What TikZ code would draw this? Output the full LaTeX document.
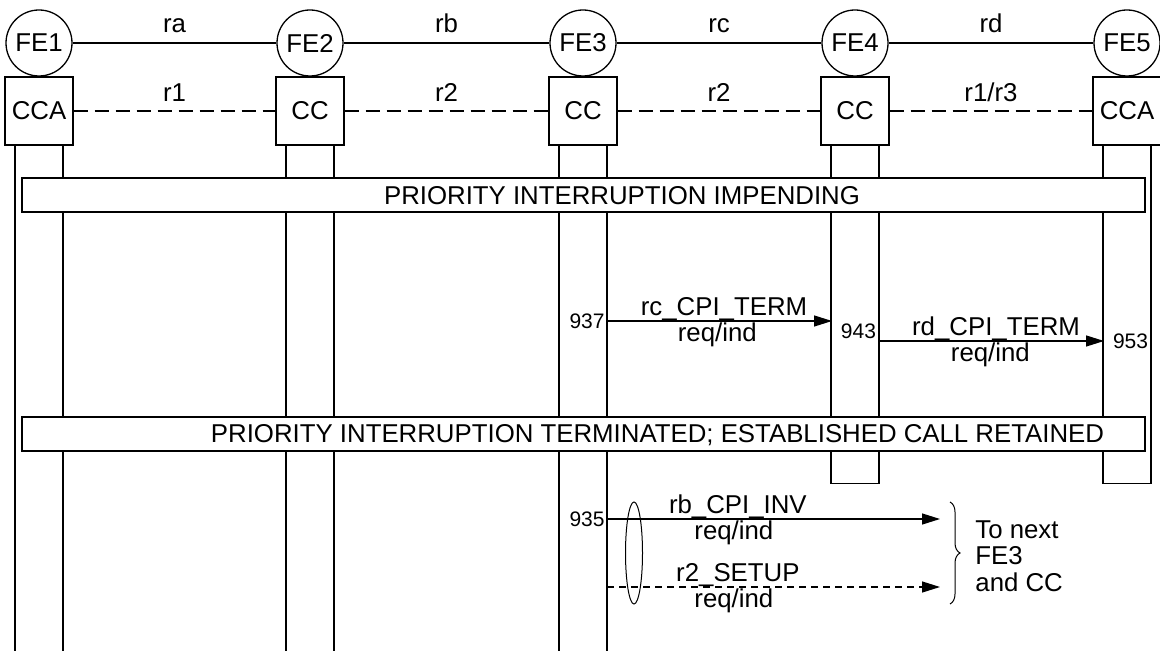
\documentclass[tikz,border=0pt]{standalone}
\usepackage{fontspec}
\setmainfont{Liberation Sans}
\usepackage{tikz}
\usetikzlibrary{arrows.meta,calc,shapes.geometric,decorations.pathreplacing}
\newcommand{\msgfont}{\fontsize{12.9pt}{13.3pt}\selectfont}
\newcommand{\numfont}{\fontsize{10.5pt}{12pt}\selectfont}
\tikzset{
  feunit/.style={circle,draw,line width=0.65pt,minimum size=33pt,inner sep=0pt,font=\msgfont},
  ccunit/.style={rectangle,draw,line width=0.65pt,minimum size=34pt,inner sep=0pt,font=\msgfont},
  lifeline/.style={line width=0.65pt},
  flowlink/.style={line width=0.65pt},
  ctrllink/.style={line width=0.65pt,dash pattern=on 7pt off 3.5pt},
  linkname/.style={font=\msgfont,anchor=base,inner sep=0pt},
  banner/.style={draw,fill=white,line width=1pt,minimum width=561.5pt,minimum height=17pt,inner sep=0pt},
  bannertext/.style={font=\msgfont,anchor=base,inner sep=0pt},
  infoflow/.style={line width=0.65pt,-{Triangle[length=9pt,width=5.5pt]}},
  setupflow/.style={infoflow,dash pattern=on 3.5pt off 2.5pt},
  flowname/.style={font=\msgfont,anchor=base,inner sep=0pt},
  actnum/.style={font=\numfont,inner sep=1pt}
}
\begin{document}
\begin{tikzpicture}[x=0.5pt,y=-0.5pt]
  \useasboundingbox (0,0) rectangle (1160,651);
  \foreach \n/\x/\t in {1/39/CCA,2/310/CC,3/583/CC,4/855/CC,5/1127/CCA}{
    \node[feunit] (fe\n) at (\x,43) {FE\n};
    \node[ccunit] (cc\n) at (\x,111) {\t};
  }
  \foreach \n in {1,2,3}{
    \draw[lifeline] ($(cc\n.south)+(-24,0)$) -- ++(0,506) ($(cc\n.south)+(24,0)$) -- ++(0,506);
  }
  \foreach \n in {4,5}{
    \draw[lifeline] ($(cc\n.south)+(-24,0)$) -- ++(0,338) -- ++(48,0) -- ++(0,-338);
  }
  \draw[flowlink] (fe1) -- node[linkname,yshift=5pt] (ra) {ra} (fe2);
  \draw[flowlink] (fe2) -- node[linkname,yshift=5pt] (rb) {rb} (fe3);
  \draw[flowlink] (fe3) -- node[linkname,yshift=5pt] (rc) {rc} (fe4);
  \draw[flowlink] (fe4) -- node[linkname,yshift=5pt] (rd) {rd} (fe5);
  \draw[ctrllink] (cc1) -- node[linkname,yshift=4.5pt] (r1) {r1} (cc2);
  \draw[ctrllink] (cc2) -- node[linkname,yshift=4.5pt] (r2a) {r2} (cc3);
  \draw[ctrllink] (cc3) -- node[linkname,yshift=4.5pt] (r2b) {r2} (cc4);
  \draw[ctrllink] (cc4) -- node[linkname,yshift=4.5pt] (r13) {r1/r3} (cc5);
  \node[banner] (impend) at (583.5,195.5) {};
  \node[bannertext] (impendtxt) at (622,205) {PRIORITY INTERRUPTION IMPENDING};
  \node[banner] (retain) at (583.5,434) {};
  \node[bannertext] (retaintxt) at (657.5,443) {PRIORITY INTERRUPTION TERMINATED; ESTABLISHED CALL RETAINED};
  \coordinate (s937) at (607,321);
  \coordinate (e943) at (832,321);
  \coordinate (s943) at (879,341);
  \coordinate (e953) at (1104,341);
  \coordinate (s935) at (607,519);
  \coordinate (s935b) at (607,587);
  \coordinate (nextfe) at (940,519);
  \coordinate (nextcc) at (940,587);
  \draw[infoflow] (s937) -- node[flowname,pos=.52,yshift=2.75pt] (rcterm) {rc\_CPI\_TERM}
    node[flowname,pos=.49,yshift=-10.3pt] (rcreq) {req/ind} (e943);
  \draw[infoflow] (s943) -- node[flowname,pos=.52,yshift=2.75pt] (rdterm) {rd\_CPI\_TERM}
    node[flowname,pos=.495,yshift=-10.3pt] (rdreq) {req/ind} (e953);
  \draw[infoflow] (s935) -- node[flowname,pos=.393,yshift=2.75pt] (rbinv) {rb\_CPI\_INV}
    node[flowname,pos=.381,yshift=-10.3pt] (rbreq) {req/ind} (nextfe);
  \draw[setupflow] (s935b) -- node[flowname,pos=.393,yshift=2.75pt] (rtwosetup) {r2\_SETUP}
    node[flowname,pos=.381,yshift=-10.3pt] (rtworeq) {req/ind} (nextcc);
  \node[actnum,left] (n937) at (s937) {937};
  \node[actnum] (n943) at (858.5,331) {943};
  \node[actnum] (n953) at (1130.5,341) {953};
  \node[actnum,left] (n935) at (s935) {935};
  \node[draw,ellipse,line width=0.5pt,minimum width=8.5pt,minimum height=51pt,inner sep=0pt] (grp) at (634,553) {};
  \coordinate (brtop) at (950,502);
  \coordinate (brbot) at (950,604);
  \draw[decorate,decoration={brace,amplitude=5pt},line width=0.5pt] (brtop) -- (brbot);
  \node[font=\msgfont,align=left,anchor=west,inner sep=0pt] (dest) at (975,556) {To next\\FE3\\and CC};
\end{tikzpicture}
\end{document}
